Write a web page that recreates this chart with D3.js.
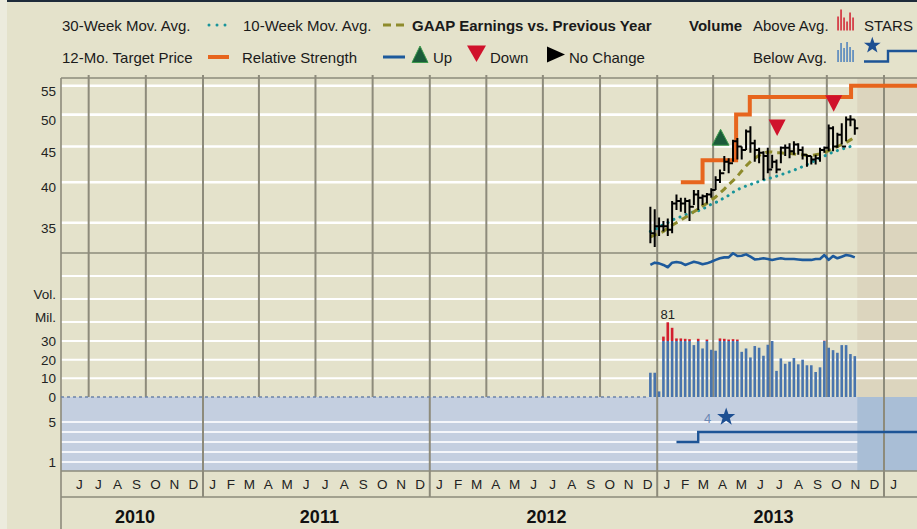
<!DOCTYPE html>
<html><head><meta charset="utf-8">
<script src="https://cdn.jsdelivr.net/npm/d3@7"></script>
<style>body{margin:0;background:#e4e2cb;}svg{display:block;font-family:"Liberation Sans",Arial,sans-serif;}</style>
</head><body><svg id="c" width="917" height="529"></svg>
<script>
// ---------------- DATA ----------------
const firstWeek = "2012-12-21";
const highs  = [36.9,36.6,35.6,35.2,35.5,37.6,38.4,38.0,38.0,37.8,39.0,39.0,38.4,38.6,39.2,40.8,41.7,43.6,43.3,46.0,46.3,45.0,47.6,48.1,46.0,44.8,44.3,44.8,43.8,43.1,45.0,45.3,45.5,45.8,45.5,45.0,43.8,43.6,43.8,44.8,45.0,48.4,48.1,47.1,48.6,49.7,49.9,49.2];
const lows   = [32.7,32.3,33.5,34.0,33.5,33.8,36.5,36.3,36.1,35.2,37.1,36.5,37.1,37.3,38.0,39.0,39.9,41.5,41.2,42.8,43.1,43.1,44.5,44.1,42.8,42.6,40.3,41.2,41.9,41.2,42.6,43.6,43.3,43.8,43.8,43.1,42.1,42.4,42.4,42.8,44.1,44.3,44.3,44.8,45.3,45.8,48.1,46.8];
const closes = [33.8,34.6,34.6,34.6,34.2,37.3,37.6,37.3,37.6,36.9,38.4,38.0,38.2,38.4,39.0,40.3,41.2,42.8,42.6,45.8,45.0,44.5,47.3,45.5,44.5,44.1,43.6,41.7,42.8,41.7,44.8,44.8,44.3,45.3,44.5,43.8,43.6,43.1,43.3,44.5,44.8,47.8,45.0,46.8,45.0,49.2,49.2,47.8];
const ma10 = [33.4,33.6,33.8,34.0,34.4,34.7,35.0,35.3,35.6,35.9,36.3,36.6,37.0,37.3,37.7,38.1,38.6,39.1,39.7,40.2,40.8,41.5,42.2,42.8,43.3,43.7,44.0,44.2,44.2,44.1,44.1,44.0,44.0,43.9,43.8,43.8,43.7,43.7,43.8,43.9,44.1,44.4,44.7,45.0,45.3,45.6,46.0,46.4];
const ma30 = [34.0,34.2,34.5,34.8,35.0,35.3,35.5,35.7,35.9,36.1,36.3,36.4,36.6,36.9,37.2,37.4,37.7,38.0,38.3,38.7,39.0,39.3,39.5,39.7,39.9,40.1,40.3,40.5,40.6,40.8,41.0,41.2,41.4,41.6,41.9,42.1,42.4,42.7,43.0,43.3,43.6,43.9,44.2,44.4,44.6,44.8,45.0,45.1];
const relStrength = [4.8,5.8,5.5,4.8,3.8,5.8,6.1,5.8,4.8,5.5,6.2,5.8,5.1,5.5,6.2,7.0,7.7,8.1,8.1,9.9,8.7,8.8,9.4,8.4,7.2,7.4,7.7,7.4,7.0,7.4,7.7,7.4,7.4,7.4,7.2,7.0,7.0,7.0,7.4,7.4,9.1,7.0,8.7,7.7,8.4,9.1,8.8,8.1];
const volume = [13,13,3,42,81,66,37,37,36,35,27.8,36,26,34,25.3,24.8,37,36,34,35,34,24.2,26,21.2,27.3,26.4,22.1,28,30,14,20.7,17.8,18.9,20.9,17.5,20,17,17,13.4,15.9,31,26.4,25.1,23.7,27.8,27.8,23,21.9];
const targetDates  = ["2013-02-08","2013-03-15","2013-05-08","2013-05-30","2013-11-09","2014-03-01"];
const targetPrices = [40,43,50,53,55,55];
const starDates  = ["2013-02-01","2013-03-08","2014-03-01"];
const starValues = [3,4,4];
const starMarkDate = "2013-04-22", starMarkLevel = 5.5, starMarkLabel = "4";
const epsDates  = ["2013-04-13","2013-07-13","2013-10-12"];
const epsDirs   = ["up","down","down"];
const epsLevels = [46.4,47.9,51.9];
const priceTicks = [35,40,45,50,55];
const volTicks = [0,10,20,30];
const starTicks = [1,5];
const starGrid = [1,2,3,4,5];
const years = [2010,2011,2012,2013];
const monthLetters = ["J","F","M","A","M","J","J","A","S","O","N","D"];
const projectionStart = "2013-11-19";
const maxVolLabel = "81";

// ---------------- LAYOUT ----------------
const W = 917, H = 529, L = 61, R = 917, T = 78, SEP = 253, VOL0 = 397, STB = 471, MB = 497;
const parse = d3.timeParse("%Y-%m-%d");
const svg = d3.select("#c");
const x = d3.scaleTime().domain([new Date(2011,0,1), new Date(2014,0,1)]).range([203,884]);
const yP = d3.scaleLog().domain([35,55]).range([222.7,85.7]);
const yV = d3.scaleLinear().domain([0,30,90]).range([397,341,319]);
const yRS = d3.scaleLinear().domain([0,10]).range([276,253]);
const yS = d3.scaleLinear().domain([1,5]).range([462,422]);
const weeks = d3.range(volume.length).map(i => d3.timeDay.offset(parse(firstWeek), 7*i));
const shadeX = x(parse(projectionStart));
const grey = "#8d8b7b";

// background
svg.append("rect").attr("width",W).attr("height",H).attr("fill","#e4e2cb");
svg.append("rect").attr("width",7).attr("height",H).attr("fill","#ecebdd");
svg.append("rect").attr("x",7).attr("width",W-7).attr("height",2).attr("fill","#1d2b3a");

// projection shading
svg.append("rect").attr("x",shadeX).attr("y",T).attr("width",R-shadeX).attr("height",VOL0-T).attr("fill","#dcd5be");
// stars panel
svg.append("rect").attr("x",L).attr("y",VOL0).attr("width",R-L).attr("height",STB-VOL0).attr("fill","#c4cfe0");
svg.append("rect").attr("x",shadeX).attr("y",VOL0).attr("width",R-shadeX).attr("height",STB-VOL0).attr("fill","#a9bed6");

// white gridlines
const g = svg.append("g");
priceTicks.forEach(t => g.append("line").attr("x1",L).attr("x2",R).attr("y1",yP(t)).attr("y2",yP(t)).attr("stroke","#fff").attr("stroke-width",2.6));
d3.range(1,4).map(i => SEP + 23*i).forEach(y => g.append("line").attr("x1",L).attr("x2",R).attr("y1",y).attr("y2",y).attr("stroke","#fff").attr("stroke-width",2));
volTicks.filter(t=>t>0).forEach(t => g.append("line").attr("x1",L).attr("x2",R).attr("y1",yV(t)).attr("y2",yV(t)).attr("stroke","#fff").attr("stroke-width",2));
starGrid.forEach(s => g.append("line").attr("x1",L).attr("x2",shadeX).attr("y1",yS(s)).attr("y2",yS(s)).attr("stroke","#f4f6fa").attr("stroke-width",2));

// frame lines
[T, SEP, STB, MB].forEach(y => svg.append("line").attr("x1",L).attr("x2",R).attr("y1",y).attr("y2",y).attr("stroke",grey).attr("stroke-width",1.6));
// vertical quarter / year lines
const quarters = d3.timeMonth.every(3).range(new Date(2010,6,1), new Date(2014,1,1));
quarters.forEach(d => {
  const isYear = d.getMonth() === 0;
  svg.append("line").attr("x1",x(d)).attr("x2",x(d)).attr("y1",T-3).attr("y2",isYear?MB:VOL0)
    .attr("stroke",grey).attr("stroke-width",2);
});
svg.append("line").attr("x1",L).attr("x2",L).attr("y1",T).attr("y2",H).attr("stroke",grey).attr("stroke-width",1.6);

// baseline dotted before data
svg.append("line").attr("x1",L).attr("x2",x(weeks[0])-2).attr("y1",VOL0).attr("y2",VOL0)
  .attr("stroke","#6c84a8").attr("stroke-width",1.6).attr("stroke-dasharray","3,3");

// volume bars
const vb = svg.append("g");
volume.forEach((v,i) => {
  const cx = x(weeks[i]);
  const top = yV(Math.min(v,30));
  vb.append("rect").attr("x",cx-1.3).attr("width",2.6).attr("y",top).attr("height",VOL0-top).attr("fill","#4874ad");
  if (v > 30) vb.append("rect").attr("x",cx-1.3).attr("width",2.6).attr("y",yV(v)).attr("height",yV(30)-yV(v)).attr("fill","#d21f2e");
});
const iMax = d3.maxIndex(volume);
svg.append("text").attr("x",x(weeks[iMax])).attr("y",yV(volume[iMax])-3).attr("text-anchor","middle")
  .attr("font-size",13).attr("fill","#222").text(maxVolLabel);

// relative strength
svg.append("path").attr("d", d3.line().x((d,i)=>x(weeks[i])).y(d=>yRS(d))(relStrength))
  .attr("fill","none").attr("stroke","#1d5a9c").attr("stroke-width",2.6).attr("stroke-linejoin","round");

// moving averages
svg.append("path").attr("d", d3.line().x((d,i)=>x(weeks[i])).y(d=>yP(d))(ma30))
  .attr("fill","none").attr("stroke","#18949a").attr("stroke-width",3).attr("stroke-linecap","round").attr("stroke-dasharray","0.1,6.5");
svg.append("path").attr("d", d3.line().x((d,i)=>x(weeks[i])).y(d=>yP(d))(ma10))
  .attr("fill","none").attr("stroke","#8e8b2c").attr("stroke-width",3).attr("stroke-dasharray","7,5");

// target price
svg.append("path").attr("d", d3.line().curve(d3.curveStepAfter).x((d,i)=>x(parse(targetDates[i]))).y(d=>yP(d))(targetPrices))
  .attr("fill","none").attr("stroke","#e7651d").attr("stroke-width",4);

// price bars
const pb = svg.append("g").attr("stroke","#000").attr("stroke-width",2).attr("fill","none");
weeks.forEach((d,i) => {
  const cx = x(d);
  const nx = i < weeks.length-1 ? x(weeks[i+1]) : cx + 3.5;
  pb.append("path").attr("d", `M${cx},${yP(lows[i])}V${yP(highs[i])}M${cx},${yP(closes[i])}H${nx}`);
});

// EPS triangles
epsDates.forEach((ds,i) => {
  const cx = x(parse(ds)), cy = yP(epsLevels[i]);
  if (epsDirs[i] === "up")
    svg.append("path").attr("d",`M${cx-8.5},${cy+8}L${cx},${cy-8}L${cx+8.5},${cy+8}Z`).attr("fill","#1b5b3a").attr("stroke","#3d9a4c").attr("stroke-width",1);
  else
    svg.append("path").attr("d",`M${cx-8.5},${cy-8}L${cx+8.5},${cy-8}L${cx},${cy+8.5}Z`).attr("fill","#d0122c");
});

// stars
function starPath(cx, cy, Rr){
  const pts=[]; for(let k=0;k<10;k++){const a=-Math.PI/2+k*Math.PI/5; const rr=k%2?Rr*0.4:Rr; pts.push([cx+rr*Math.cos(a), cy+rr*Math.sin(a)]);}
  return "M"+pts.map(p=>p.join(",")).join("L")+"Z";
}
svg.append("path").attr("d", d3.line().curve(d3.curveStepAfter).x((d,i)=>x(parse(starDates[i]))).y(d=>yS(d))(starValues))
  .attr("fill","none").attr("stroke","#1d5496").attr("stroke-width",2.4);
const smx = x(parse(starMarkDate)), smy = yS(starMarkLevel);
svg.append("path").attr("d", starPath(smx, smy, 9.5)).attr("fill","#1d4f92");
svg.append("text").attr("x",smx-15).attr("y",smy+6).attr("text-anchor","end").attr("font-size",13).attr("fill","#6a88b4").text(starMarkLabel);

// axis labels
const ax = svg.append("g").attr("fill","#222").attr("font-size",13.5).attr("text-anchor","end");
priceTicks.forEach(t => ax.append("text").attr("x",56).attr("y",yP(t)+10).text(t));
ax.append("text").attr("x",56).attr("y",SEP+46).text("Vol.");
ax.append("text").attr("x",56).attr("y",SEP+69).text("Mil.");
volTicks.forEach(t => ax.append("text").attr("x",56).attr("y",yV(t)).attr("dy","0.36em").text(t));
starTicks.forEach(t => ax.append("text").attr("x",56).attr("y",yS(t)).attr("dy","0.36em").text(t));

// month letters
const months = d3.timeMonth.range(new Date(2010,5,1), new Date(2014,1,1));
months.forEach(m => {
  const mid = (x(m) + x(d3.timeMonth.offset(m,1)))/2;
  if (mid > R - 4) return;
  svg.append("text").attr("x",mid).attr("y",489).attr("text-anchor","middle").attr("font-size",13.5).attr("fill","#222").text(monthLetters[m.getMonth()]);
});
years.forEach(yv => {
  const a = Math.max(L, x(new Date(yv,0,1))), b = x(new Date(yv+1,0,1));
  svg.append("text").attr("x",(a+b)/2+3).attr("y",522.5).attr("text-anchor","middle").attr("font-size",18).attr("font-weight","bold").attr("fill","#111").text(yv);
});

// ---------------- LEGEND ----------------
const lg = svg.append("g").attr("font-size",15).attr("fill","#1a1a1a");
const txt = (x0,y0,s,bold) => lg.append("text").attr("x",x0).attr("y",y0).attr("font-weight",bold?"bold":"normal").text(s);
txt(62,31,"30-Week Mov. Avg.");
[209,217,225].forEach(cx => lg.append("circle").attr("cx",cx).attr("cy",25).attr("r",1.5).attr("fill","#18949a"));
txt(243,31,"10-Week Mov. Avg.");
lg.append("line").attr("x1",383).attr("x2",405).attr("y1",25).attr("y2",25).attr("stroke","#8e8b2c").attr("stroke-width",3).attr("stroke-dasharray","8,5");
txt(412,31,"GAAP Earnings vs. Previous Year",true);
txt(689,31,"Volume",true);
txt(753,31,"Above Avg.");
[[838,14],[841,21],[844,13],[847,9],[850,18],[853,13]].forEach(([bx,h]) => lg.append("rect").attr("x",bx-0.7).attr("width",1.5).attr("y",30.5-h).attr("height",h).attr("fill","#d21f2e"));
txt(864,31,"STARS");

txt(62,63,"12-Mo. Target Price");
lg.append("line").attr("x1",208).attr("x2",229).attr("y1",57).attr("y2",57).attr("stroke","#e7651d").attr("stroke-width",4);
txt(242,63,"Relative Strength");
lg.append("line").attr("x1",383).attr("x2",405).attr("y1",57).attr("y2",57).attr("stroke","#1d5a9c").attr("stroke-width",3);
lg.append("path").attr("d","M412,62.5L420,46L428,62.5Z").attr("fill","#1b5b3a").attr("stroke","#3d9a4c");
txt(433,63,"Up");
lg.append("path").attr("d","M467,45.5L486,45.5L476.5,62Z").attr("fill","#d0122c");
txt(490,63,"Down");
lg.append("path").attr("d","M547,46.5L565,54.5L547,62.5Z").attr("fill","#000");
txt(569,63,"No Change");
txt(753,63,"Below Avg.");
[[838,12],[841,19],[844,14],[847,20],[850,15],[853,12]].forEach(([bx,h]) => lg.append("rect").attr("x",bx-0.7).attr("width",1.5).attr("y",62-h).attr("height",h).attr("fill","#4a7fbc"));
lg.append("path").attr("d", starPath(872.3,45.5,8.8)).attr("fill","#1d4f92");
lg.append("path").attr("d","M864,61.5H888V51H917").attr("fill","none").attr("stroke","#1d5496").attr("stroke-width",2.4);
</script></body></html>
